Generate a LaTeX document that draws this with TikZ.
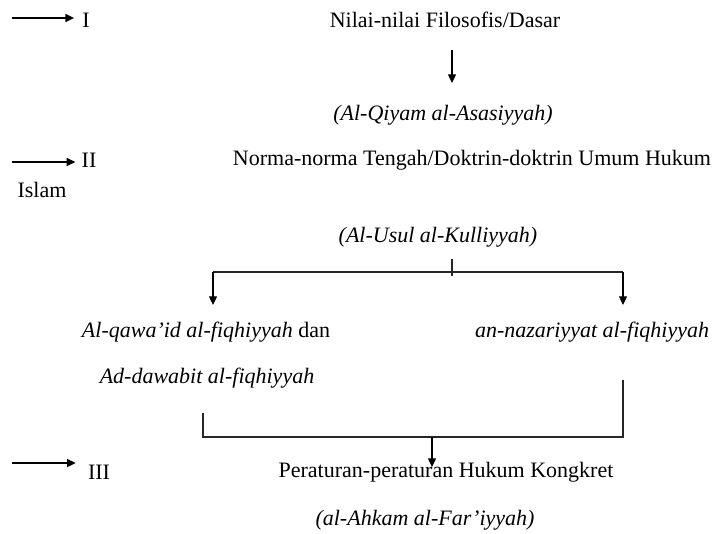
\documentclass[tikz,border=0pt]{standalone}
\usepackage{fontspec}
\setmainfont{Liberation Serif}
\usetikzlibrary{arrows.meta}
\begin{document}
\begin{tikzpicture}[x=0.75pt,y=-0.75pt,
  font=\fontsize{16.5}{20}\selectfont,
  txt/.style={inner sep=0pt, anchor=center},
  it/.style={txt, font=\fontsize{16.5}{20}\selectfont\itshape},
  ln/.style={line width=0.9pt, draw=black!85},
  arr/.style={line width=0.9pt, -{Triangle[length=6.5pt,width=6pt]}}
]
\useasboundingbox (0,0) rectangle (716,533);

% main texts
\node[txt] (n1) at (445,20) {Nilai-nilai Filosofis/Dasar};
\node[it]  (q1) at (443,115) {(Al-Qiyam al-Asasiyyah)};
\node[txt] (n2) at (472,160) {Norma-norma Tengah/Doktrin-doktrin Umum Hukum};
\node[it]  (q2) at (438,237) {(Al-Usul al-Kulliyyah)};
\node[txt] (a1) at (206,332) {\textit{Al-qawa’id al-fiqhiyyah} dan};
\node[it]  (a2) at (207,378) {Ad-dawabit al-fiqhiyyah};
\node[it]  (b1) at (592,332) {an-nazariyyat al-fiqhiyyah};
\node[txt] (n3) at (446,472) {Peraturan-peraturan Hukum Kongkret};
\node[it]  (q3) at (425,520) {(al-Ahkam al-Far’iyyah)};

% level labels
\node[txt] (l1) at (86,20) {I};
\node[txt] (l2) at (89,160) {II};
\node[txt] (l3) at (99,472) {III};
\node[txt] (isl) at (42,190) {Islam};

% left arrows
\coordinate (s1) at (12,18);
\coordinate (s2) at (12,162);
\coordinate (s3) at (12,463);
\draw[arr] (s1) -- ([xshift=-6pt]s1 -| l1.west);
\draw[arr] (s2) -- ([xshift=-4.5pt]s2 -| l2.west);
\draw[arr] (s3) -- ([xshift=-9pt]s3 -| l3.west);

% arrow from level I text down
\coordinate (d1a) at (452,50);
\coordinate (d1b) at (452,83);
\draw[arr] (d1a) -- (d1b);

% branching after Al-Usul
\coordinate (t0) at (452,259);
\coordinate (t1) at (452,276);
\coordinate (bl) at (213,272);
\coordinate (br) at (623,272);
\coordinate (blt) at (213,305);
\coordinate (brt) at (623,305);
\draw[ln] (t0) -- (t1);
\draw[ln] (bl) -- (br);
\draw[arr] (bl) -- (blt);
\draw[arr] (br) -- (brt);

% merging into level III
\coordinate (ml0) at (203,413);
\coordinate (ml) at (203,437);
\coordinate (mr0) at (623,380);
\coordinate (mr) at (623,437);
\coordinate (mc) at (432,437);
\coordinate (mct) at (432,467);
\draw[ln] (ml0) -- (ml) -- (mr) -- (mr0);
\draw[arr] (mc) -- (mct);
\end{tikzpicture}
\end{document}
